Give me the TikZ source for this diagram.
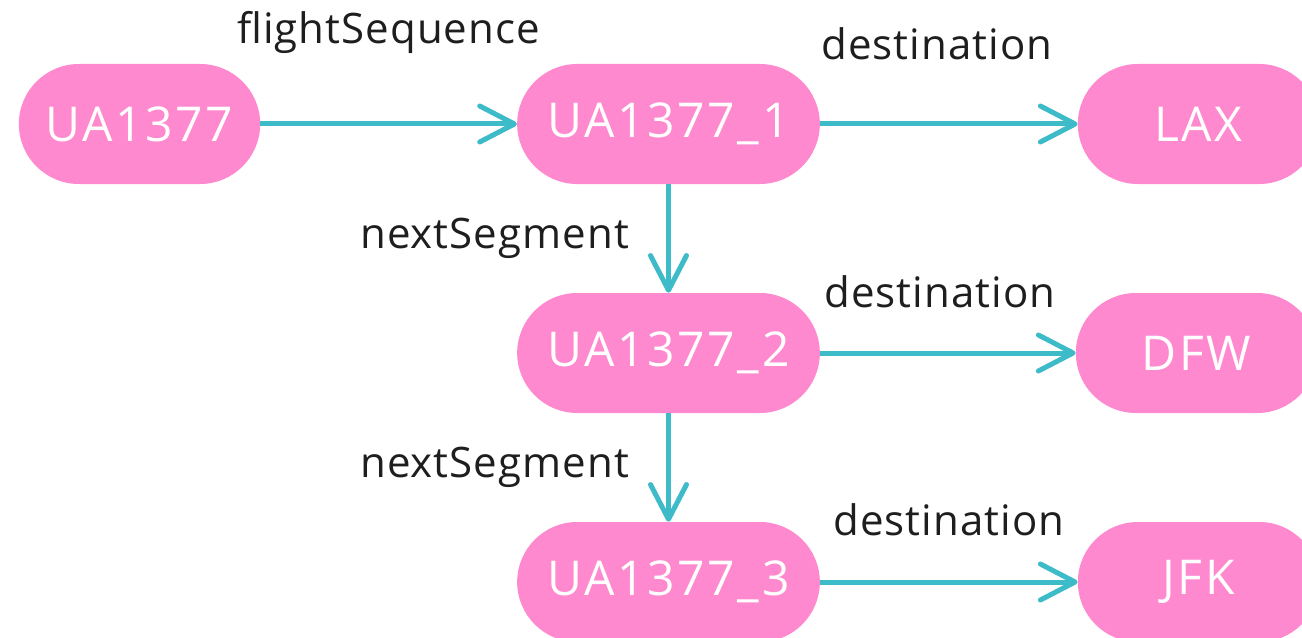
\documentclass[tikz,border=0pt]{standalone}
\usepackage{fontspec}
\setmainfont{Open Sans}
\newfontfamily\segfont[LetterSpace=5.5]{Open Sans}
\newfontfamily\linkfont[LetterSpace=2.5]{Open Sans}
\usetikzlibrary{arrows.meta}

\begin{document}
\begin{tikzpicture}[x=0.75pt,y=-0.75pt]
% Colors
\definecolor{segcolor}{HTML}{FF89CE}
\definecolor{linkcolor}{HTML}{3DBBC8}
\definecolor{labelcolor}{HTML}{1E1E1E}
% Styles
\tikzstyle{segment}=[fill=segcolor,text=white,rounded corners=45pt,minimum height=90pt,inner sep=0pt,font=\segfont\fontsize{36}{40}\selectfont]
\tikzstyle{link}=[draw=linkcolor,line width=3.75pt,-{Straight Barb[length=26pt,width=27pt,round]}]
\tikzstyle{link label}=[text=labelcolor,inner sep=0pt,font=\linkfont\fontsize{31.5}{36}\selectfont]
% The graphic
\useasboundingbox (0,0) rectangle (1302,638);
\node[segment,minimum width=181pt] (flight) at (139.5,124) {UA1377};
\node[segment,minimum width=227pt] (seg1) at (668.5,124) {UA1377\_1};
\node[segment,minimum width=227pt] (seg2) at (668.5,353) {UA1377\_2};
\node[segment,minimum width=227pt] (seg3) at (668.5,582) {UA1377\_3};
\node[segment,minimum width=181pt] (lax) at (1198.5,124) {LAX};
\node[segment,minimum width=181pt] (dfw) at (1196.5,353) {DFW};
\node[segment,minimum width=181pt] (jfk) at (1198.5,582) {JFK};
\draw[link] (flight) -- node[link label,yshift=69pt] {flightSequence} (seg1);
\draw[link] (seg1) -- node[link label,xshift=-9pt,yshift=60pt] {destination} (lax);
\draw[link] (seg2) -- node[link label,xshift=-6pt,yshift=46pt] {destination} (dfw);
\draw[link] (seg3) -- node[link label,yshift=47pt] {destination} (jfk);
\draw[link] (seg1) -- node[link label,left=27.75pt] {nextSegment} (seg2);
\draw[link] (seg2) -- node[link label,left=27.75pt] {nextSegment} (seg3);
\end{tikzpicture}
\end{document}
